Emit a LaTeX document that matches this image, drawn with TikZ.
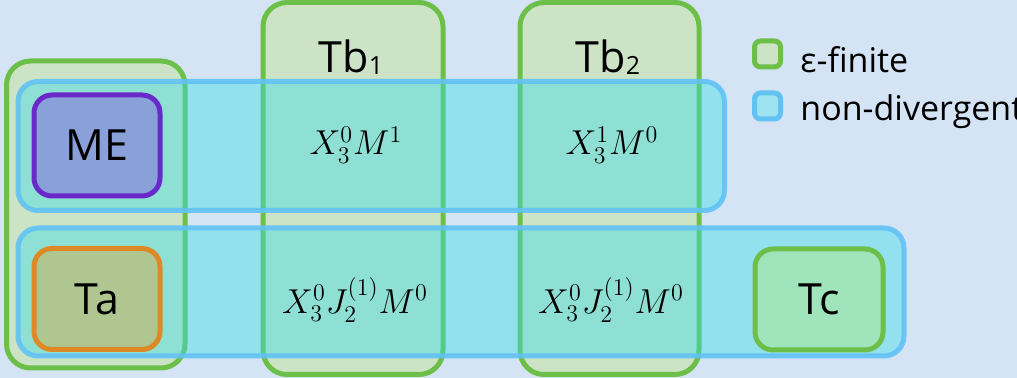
\documentclass[tikz,border=0pt]{standalone}
\usepackage{fontspec}
\setmainfont{Open Sans}
\usepackage{amsmath}
\usetikzlibrary{positioning}
\definecolor{bgcol}{HTML}{D5E4F5}
\definecolor{grnline}{HTML}{6CC04A}
\definecolor{grnfill}{HTML}{CCE3C5}
\definecolor{bluline}{HTML}{62C2F4}
\definecolor{blufill}{HTML}{30DCE8}
\definecolor{purline}{HTML}{6A2ACB}
\definecolor{purfill}{HTML}{8AA0D8}
\definecolor{orline}{HTML}{DD8A26}
\definecolor{orfill}{HTML}{B0C690}
\definecolor{tcfill}{HTML}{A0E4BC}
\definecolor{keyblu}{HTML}{9EE3F0}
\newcommand{\lowidx}[1]{\raisebox{-1.2pt}{\fontsize{12.5}{13}\selectfont #1}}

\begin{document}
\begin{tikzpicture}[x=0.5pt,y=-0.5pt,
  grp/.style={draw=grnline, fill=grnfill, line width=2.5pt, rounded corners=12pt, inner sep=0pt},
  ndiv/.style={draw=bluline, draw opacity=0.9, fill=blufill, fill opacity=0.4, line width=2.5pt, rounded corners=10pt, inner sep=0pt},
  term/.style={line width=2.5pt, rounded corners=9pt, minimum width=63pt, minimum height=50.5pt, font=\fontsize{21.5}{24}\selectfont},
  lbl/.style={font=\fontsize{21.5}{24}\selectfont},
  mth/.style={font=\fontsize{18}{20}\selectfont},
  key/.style={line width=2.5pt, rounded corners=3pt, minimum size=13pt, inner sep=0pt},
  keytxt/.style={font=\fontsize{17}{20}\selectfont, inner sep=0pt, anchor=base west}
]
\fill[bgcol] (0,0) rectangle (1017,378);
\useasboundingbox (0,0) rectangle (1017,378);

\node[grp, minimum width=89.25pt, minimum height=153.5pt] (grpA) at (95.75,214.5) {};
\node[grp, minimum width=90pt, minimum height=186pt] (tbOne) at (353,188.5) {};
\node[grp, minimum width=89.5pt, minimum height=186pt] (tbTwo) at (609.5,188.5) {};

\node[ndiv, minimum width=353.25pt, minimum height=64.5pt] (ndTop) at (371.25,146) {};
\node[ndiv, minimum width=443pt, minimum height=64pt] (ndBot) at (461,292) {};

\node[term, draw=purline, fill=purfill] (me) at (97,145.5) {ME};
\node[term, draw=orline, fill=orfill] (ta) at (97,299) {Ta};
\node[term, draw=grnline, fill=tcfill, minimum width=64pt] (tc) at (819,299.5) {Tc};

\node[lbl] (tbOneLbl) at (351,57) {Tb\lowidx{1}};
\node[lbl] (tbTwoLbl) at (608,57) {Tb\lowidx{2}};

\node[mth] (xOne) at (356,145) {$X_3^0M^1$};
\node[mth] (xTwo) at (612,145) {$X_3^1M^0$};
\node[mth] (xjOne) at (355,300) {$X_3^0J_2^{(1)}M^0$};
\node[mth] (xjTwo) at (611,300) {$X_3^0J_2^{(1)}M^0$};

\node[key, draw=grnline, fill=grnfill] (keyFin) at (767.5,54) {};
\node[key, draw=bluline, fill=keyblu] (keyNd) at (767.5,106) {};
\node[keytxt] (finTxt) at (800,73) {ε-finite};
\node[keytxt] (ndTxt) at (800,121) {non-divergent};
\end{tikzpicture}
\end{document}
